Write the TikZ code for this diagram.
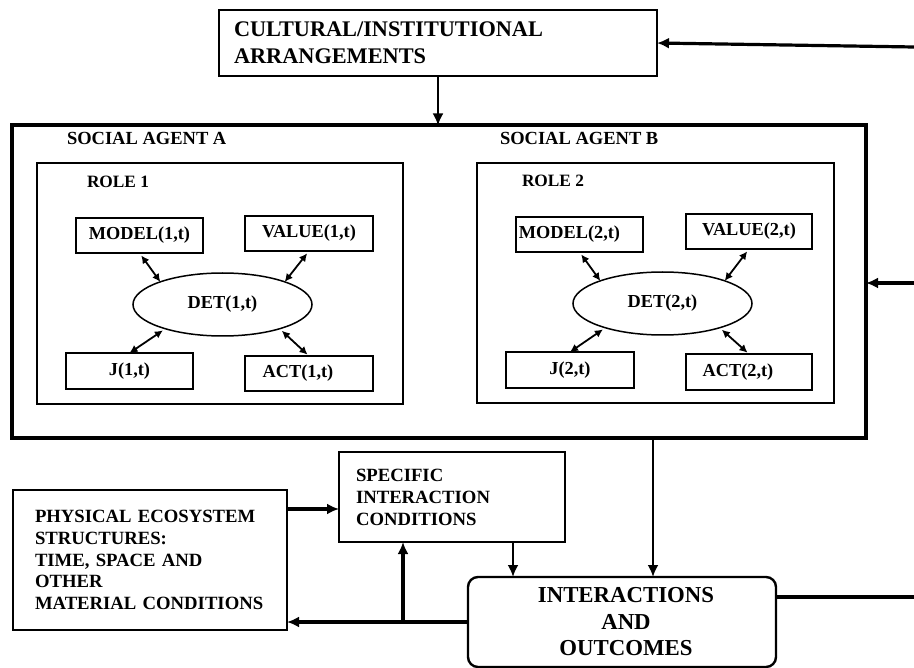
\documentclass[tikz,border=0pt]{standalone}
\usepackage{fontspec}
\setmainfont{Liberation Serif}
\usetikzlibrary{arrows.meta,shapes.geometric}
\begin{document}
\begin{tikzpicture}[x=1pt,y=-1pt,
  every node/.style={inner sep=0pt, outer sep=0pt},
  bigbox/.style={draw, line width=1.8pt},
  rolebox/.style={draw, line width=1.7pt},
  smallbox/.style={draw, line width=1.7pt, minimum width=127pt, minimum height=35pt,
    font=\bfseries\fontsize{18.3}{20}\selectfont},
  detnode/.style={draw, ellipse, line width=1.5pt, minimum width=179pt, minimum height=63pt,
    font=\bfseries\fontsize{18.3}{20}\selectfont},
  lbl/.style={anchor=base west, font=\bfseries\fontsize{18.5}{20}\selectfont},
  dbl/.style={{Latex[length=8pt,width=8pt]}-{Latex[length=8pt,width=8pt]}, line width=1.8pt},
  arr/.style={-{Latex[length=12pt,width=11pt]}},
]
\useasboundingbox (0,0) rectangle (914,668);

% top box
\node[bigbox, minimum width=438pt, minimum height=66pt, text width=408pt, align=left,
  font=\bfseries\fontsize{22.3}{27}\selectfont] (cult) at (438,43)
  {CULTURAL/INSTITUTIONAL\\ARRANGEMENTS};

% social agents frame
\node[draw, line width=4pt, minimum width=854pt, minimum height=312.5pt] (agent) at (439,281.75) {};
\node[lbl] (sa) at (67,145) {SOCIAL AGENT A};
\node[lbl] (sb) at (500,145) {SOCIAL AGENT B};

% role boxes
\node[rolebox, minimum width=366pt, minimum height=241pt] (role1) at (220,283.5) {};
\node[rolebox, minimum width=357pt, minimum height=240pt] (role2) at (655.5,283) {};
\node[lbl, font=\bfseries\fontsize{17.3}{20}\selectfont] (r1) at (87,188) {ROLE 1};
\node[lbl, font=\bfseries\fontsize{17.3}{20}\selectfont] (r2) at (522,187) {ROLE 2};

% role 1 contents
\node[smallbox] (M1) at (139.5,235.5) {MODEL(1,t)};
\node[smallbox, minimum width=128pt] (V1) at (309,233.5) {VALUE(1,t)};
\node[smallbox, minimum height=36pt] (J1) at (129.5,371) {J(1,t)};
\node[smallbox, minimum width=128pt] (A1) at (309,373.5) {\hspace*{-22pt}ACT(1,t)};
\node[detnode] (E1) at (222.5,304.5) {DET(1,t)};

% role 2 contents
\node[smallbox] (M2) at (579.5,234.5) {\hspace*{-20pt}MODEL(2,t)};
\node[smallbox, minimum width=126pt] (V2) at (749,231.5) {VALUE(2,t)};
\node[smallbox, minimum width=128pt, minimum height=36pt] (J2) at (570,370) {J(2,t)};
\node[smallbox, minimum width=126pt, minimum height=36pt] (A2) at (749,372) {\hspace*{-22pt}ACT(2,t)};
\node[detnode] (E2) at (662.5,303.5) {DET(2,t)};

% double arrows
\draw[dbl, shorten <=3pt] (M1.south) -- (E1.160);
\draw[dbl, shorten <=3pt] (V1.south) -- (E1.20);
\draw[dbl, shorten <=3pt] (E1.203) -- (J1.north);
\draw[dbl, shorten <=3pt, shorten >=2pt] (E1.337) -- (A1.north);
\draw[dbl, shorten <=3pt] (M2.south) -- (E2.160);
\draw[dbl, shorten <=3pt] (V2.south) -- (E2.20);
\draw[dbl, shorten <=3pt] (E2.203) -- (J2.north);
\draw[dbl, shorten <=3pt, shorten >=2pt] (E2.337) -- (A2.north);

% bottom boxes
\node[bigbox, minimum width=274pt, minimum height=140pt, text width=230pt, align=left,
  font=\bfseries\fontsize{18.7}{21.75}\selectfont] (phys) at (150,560)
  {PHYSICAL ECOSYSTEM\\STRUCTURES:\\TIME, SPACE AND\\OTHER\\MATERIAL CONDITIONS};
\node[bigbox, minimum width=226pt, minimum height=90pt, text width=192pt, align=left,
  font=\bfseries\fontsize{18.7}{22}\selectfont] (spec) at (452,497)
  {SPECIFIC\\INTERACTION\\CONDITIONS};
\node[draw, rounded corners=10pt, line width=2.4pt, minimum width=308pt, minimum height=90pt,
  align=center, font=\bfseries\fontsize{22.8}{26.5}\selectfont] (inter) at (622,622)
  {\hspace*{8pt}INTERACTIONS\\\hspace*{8pt}AND\\\hspace*{8pt}OUTCOMES};

% helper coordinates
\coordinate (rtop) at (914,47);
\coordinate (rmid) at (914,283);
\coordinate (rbot) at (914,597);
\coordinate (ax) at (653,0);
\coordinate (sx) at (513,0);
\coordinate (py) at (0,509);
\coordinate (ux) at (403,622);

% connectors
\draw[arr, line width=2.8pt] (cult.south) -- (cult.south |- agent.north);
\draw[arr, line width=3.2pt] (rtop) -- (cult.east);
\draw[arr, line width=3.2pt] (rmid) -- (rmid -| agent.east);
\draw[line width=3.8pt] (rbot -| inter.east) -- (rbot);
\draw[arr, line width=2.6pt] (agent.south -| ax) -- (inter.north -| ax);
\draw[arr, line width=2.8pt] (spec.south -| sx) -- (inter.north -| sx);
\draw[arr, line width=3.8pt] (phys.east |- py) -- (spec.west |- py);
\draw[arr, line width=3.8pt] (inter.west) -- (inter.west -| phys.east);
\draw[arr, line width=3.2pt] (ux) -- (ux |- spec.south);
\end{tikzpicture}
\end{document}
